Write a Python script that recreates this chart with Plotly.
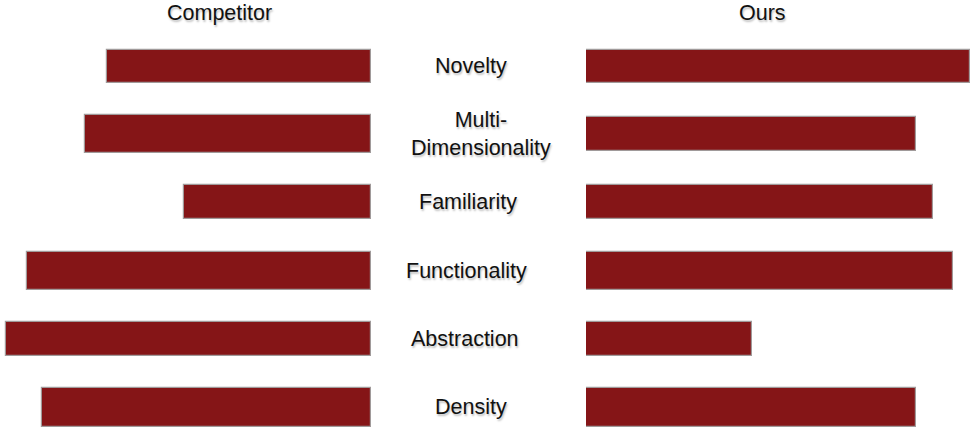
import plotly.graph_objects as go

categories = ["Novelty", "Multi-<br>Dimensionality", "Familiarity", "Functionality", "Abstraction", "Density"]
competitor = [66, 71.5, 46.8, 86, 91.2, 82.2]
ours = [96, 82.4, 86.8, 91.8, 41.5, 82.4]
panel_titles = ["Competitor", "Ours"]

W, H = 974, 433
BAR = "#851517"
EDGE = "#a09a9a"
FONT = "Liberation Sans, Arial, Helvetica, sans-serif"
SHADOW = "1px 2px 2px rgba(0,0,0,0.25)"
FS = 21.5

left_end = 371
right_start = 586
px_per_unit = 4.0
step = 68.2
top_center = 66

# bar thickness in pixels (style only)
left_thick = [33, 38, 34, 38, 34, 39]
right_thick = [33, 34, 34, 38, 34, 39]
# label horizontal centres in pixels (layout only)
label_cx = [471, 481, 468, 466, 465, 471]

idx = list(range(len(categories)))

fig = go.Figure()
fig.add_trace(go.Bar(
    x=competitor, y=idx, orientation="h", xaxis="x", yaxis="y",
    marker=dict(color=BAR, line=dict(color=EDGE, width=1.2)),
    width=[t / step for t in left_thick], showlegend=False, hoverinfo="skip",
))
fig.add_trace(go.Bar(
    x=ours, y=idx, orientation="h", xaxis="x2", yaxis="y",
    marker=dict(color=BAR, line=dict(color=EDGE, width=1.2)),
    width=[t / step for t in right_thick], showlegend=False, hoverinfo="skip",
))

y_top = -top_center / step
y_bot = (H - top_center) / step

annotations = []
for i, c in enumerate(categories):
    annotations.append(dict(
        x=label_cx[i] / W, xref="paper", y=i, yref="y",
        text=c, showarrow=False, xanchor="center", yanchor="middle",
        font=dict(family=FONT, size=FS, color="#111", shadow=SHADOW),
    ))
annotations.append(dict(
    x=219 / W, y=1 - 13 / H, xref="paper", yref="paper", text=panel_titles[0],
    showarrow=False, xanchor="center", yanchor="middle",
    font=dict(family=FONT, size=FS, color="#111", shadow=SHADOW),
))
annotations.append(dict(
    x=762 / W, y=1 - 13 / H, xref="paper", yref="paper", text=panel_titles[1],
    showarrow=False, xanchor="center", yanchor="middle",
    font=dict(family=FONT, size=FS, color="#111", shadow=SHADOW),
))

fig.update_layout(
    width=W, height=H, autosize=False,
    margin=dict(l=0, r=0, t=0, b=0),
    paper_bgcolor="white", plot_bgcolor="white",
    xaxis=dict(domain=[0, left_end / W], range=[left_end / px_per_unit, 0],
               visible=False, fixedrange=True),
    xaxis2=dict(domain=[right_start / W, 1], range=[0, (W - right_start) / px_per_unit],
                visible=False, fixedrange=True),
    yaxis=dict(range=[y_bot, y_top], visible=False, fixedrange=True),
    annotations=annotations,
    bargap=0,
)

fig.write_html("out.html")
